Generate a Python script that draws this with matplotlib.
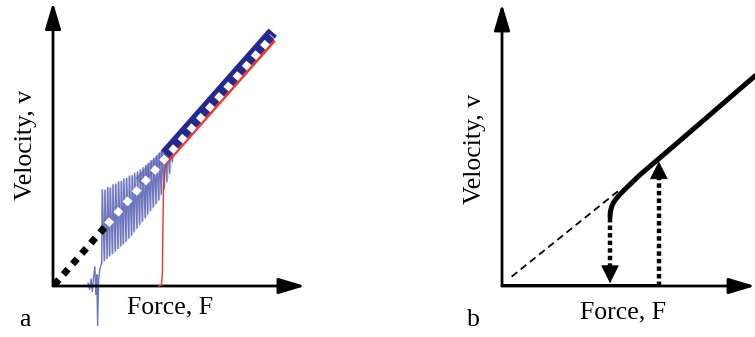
import numpy as np
import matplotlib
matplotlib.use("Agg")
import matplotlib.pyplot as plt

plt.rcParams['font.family'] = ['Liberation Serif', 'DejaVu Serif']

# ---- panel a: measured data (schematic units, 0..10) ----
fit_x = [0.05, 2.14, 8.70]
fit_y = [0.04, 2.17, 8.85]

# blue oscillating measurement: stroke positions, upper and lower ends
osc_x = [1.93, 2.04, 2.15, 2.25, 2.36, 2.47, 2.58, 2.69, 2.79, 2.90, 3.01, 3.12, 3.22, 3.33,
         3.44, 3.55, 3.66, 3.76, 3.87, 3.98, 4.09, 4.20, 4.30, 4.41, 4.52, 4.63, 4.74, 4.84]
osc_top = [3.42, 3.40, 3.50, 3.48, 3.60, 3.62, 3.70, 3.72, 3.80, 3.82, 3.90, 3.92, 4.00, 4.05,
           4.12, 4.20, 4.28, 4.35, 4.45, 4.52, 4.60, 4.70, 4.78, 4.88, 4.98, 5.08, 5.15, 5.25]
osc_bot = [0.82, 0.90, 0.98, 1.07, 1.15, 1.24, 1.33, 1.42, 1.50, 1.58, 1.70, 1.80, 1.93, 2.05,
           2.18, 2.30, 2.42, 2.55, 2.68, 2.80, 2.92, 3.05, 3.25, 3.45, 3.70, 4.00, 4.40, 4.75]
pre_x = [1.39, 1.45, 1.51, 1.56, 1.61, 1.66, 1.70, 1.74, 1.77, 1.81, 1.86, 1.93]
pre_y = [0.10, -0.12, 0.25, -0.20, 0.30, 0.68, -0.30, 0.40, -1.40, 0.20, 0.60, 0.82]
fade_x = [3.40, 4.60]
fade_y = [3.70, 4.85]
band_x = [4.45, 8.72]
band_y = [4.68, 9.00]

red_x = [4.20, 4.30, 4.34, 4.36, 4.39, 4.45, 4.56, 8.78]
red_y = [0.00, 0.03, 0.40, 2.00, 3.60, 4.20, 4.45, 8.72]

# ---- panel b: idealised model ----
stick_x = [0.0, 6.24]
stick_y = [0.0, 0.0]
guide_x = [0.38, 4.58]
guide_y = [0.33, 3.36]
slide_x = [4.27, 4.285, 4.33, 4.40, 4.50, 4.65, 4.85, 5.45, 7.04, 10.0]
slide_y = [2.46, 2.64, 2.80, 2.95, 3.08, 3.24, 3.42, 3.94, 5.16, 7.45]
drop_x, drop_y = 4.27, [2.40, 0.10]
jump_x, jump_y = 6.20, [0.00, 4.42]

W, H = 755, 337
fig = plt.figure(figsize=(W / 100, H / 100), dpi=100)
ax_a = fig.add_axes([53 / W, (H - 286) / H, 252 / W, 282 / H])
ax_b = fig.add_axes([502 / W, (H - 286) / H, 253 / W, 282 / H])


def draw_axes(ax, xtip, ytip):
    ax.set_xlim(0, 10)
    ax.set_ylim(0, 10)
    ax.axis('off')
    style = '-|>,head_length=16,head_width=4.8'
    for tip in [(xtip, 0), (0, ytip)]:
        ax.annotate('', xy=tip, xytext=(0, 0), annotation_clip=False,
                    arrowprops=dict(arrowstyle=style, mutation_scale=1, lw=2.0,
                                    color='black', shrinkA=0, shrinkB=0))


draw_axes(ax_a, 10.0, 10.05)
draw_axes(ax_b, 10.0, 10.0)

# panel a
ox = np.array(osc_x)
ax_a.fill_between(ox, osc_bot, osc_top, color='#c3c6e6', alpha=0.6, lw=0, zorder=1)
zx = np.ravel(np.column_stack([ox, ox + 0.02]))
zy = np.ravel(np.column_stack([osc_bot, osc_top]))
ax_a.plot(pre_x, pre_y, color='#6c74c0', lw=1.0, clip_on=False, zorder=2)
ax_a.plot(zx, zy, color='#5a63b6', lw=1.0, alpha=0.85, clip_on=False, zorder=2)
ax_a.plot(red_x[:7], red_y[:7], color='#e8382f', lw=1.0, clip_on=False, zorder=3)
ax_a.plot(red_x[6:], red_y[6:], color='#e8382f', lw=3.0, clip_on=False, zorder=3,
          solid_capstyle='butt')
ax_a.plot(fade_x, fade_y, color='#5a63b6', lw=7, alpha=0.6, clip_on=False, zorder=3,
          solid_capstyle='butt')
ax_a.plot(band_x, band_y, color='#23298e', lw=8, clip_on=False, zorder=4,
          solid_capstyle='butt')
ax_a.plot(fit_x[:2], fit_y[:2], color='black', lw=5, ls=(0, (1, 1)), clip_on=False,
          zorder=5, dash_capstyle='butt')
ax_a.plot(fit_x[1:], fit_y[1:], color='white', lw=5, ls=(0, (1, 1)), clip_on=False,
          zorder=5, dash_capstyle='butt')

# panel b
ax_b.plot(stick_x, stick_y, color='black', lw=3.6, solid_capstyle='butt', zorder=3)
ax_b.plot(guide_x, guide_y, color='black', lw=1.3, ls=(0, (4, 2.5)), zorder=2)
ax_b.plot(slide_x, slide_y, color='black', lw=3.6, solid_capstyle='round', clip_on=False, zorder=3)
ax_b.plot([drop_x, drop_x], [drop_y[0], drop_y[1] + 0.5], color='black', lw=3.2,
          ls=(0, (1, 0.7)), dash_capstyle='butt', zorder=3)
ax_b.plot([jump_x, jump_x], [jump_y[0], jump_y[1] - 0.5], color='black', lw=3.2,
          ls=(0, (1, 0.7)), dash_capstyle='butt', zorder=3)
head = '-|>,head_length=12,head_width=6'
ax_b.annotate('', xy=(drop_x, drop_y[1]), xytext=(drop_x, drop_y[1] + 0.65),
              arrowprops=dict(arrowstyle=head, mutation_scale=1, lw=0.5, color='black',
                              shrinkA=0, shrinkB=0))
ax_b.annotate('', xy=(jump_x, jump_y[1]), xytext=(jump_x, jump_y[1] - 0.65),
              arrowprops=dict(arrowstyle=head, mutation_scale=1, lw=0.5, color='black',
                              shrinkA=0, shrinkB=0))

fs = 18.5
fig.text(26 / W, 1 - 145 / H, 'Velocity, v', rotation=90, fontsize=fs, ha='center', va='center')
fig.text(170 / W, 1 - 307 / H, 'Force, F', fontsize=fs, ha='center', va='center')
fig.text(25 / W, 1 - 320 / H, 'a', fontsize=fs, ha='center', va='center')
fig.text(475 / W, 1 - 149 / H, 'Velocity, v', rotation=90, fontsize=fs, ha='center', va='center')
fig.text(623 / W, 1 - 312 / H, 'Force, F', fontsize=fs, ha='center', va='center')
fig.text(473 / W, 1 - 320 / H, 'b', fontsize=fs, ha='center', va='center')

fig.savefig('out.png', dpi=100)
